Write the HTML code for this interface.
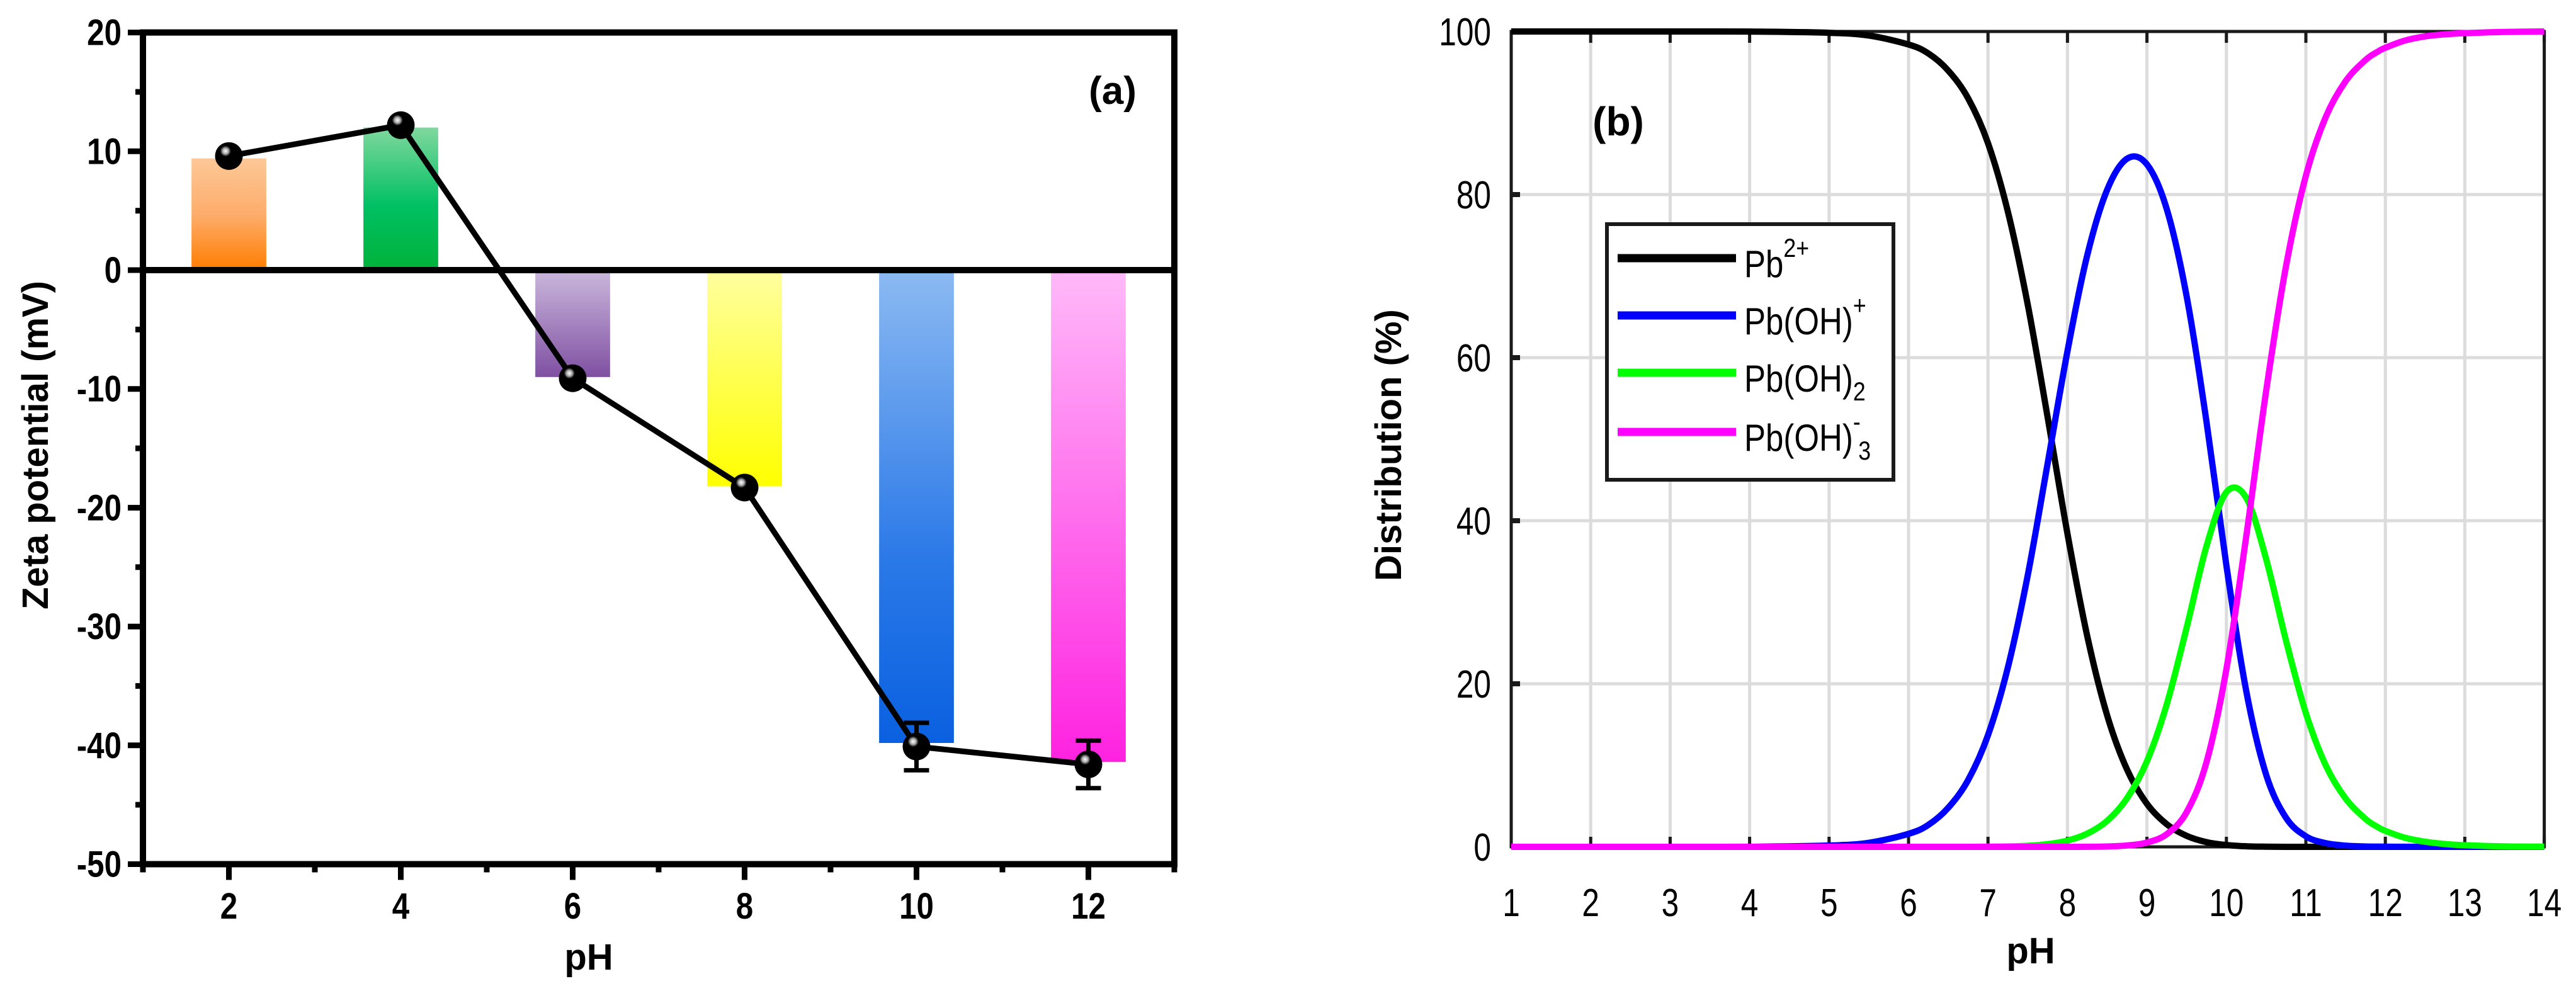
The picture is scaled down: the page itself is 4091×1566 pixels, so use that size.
<!DOCTYPE html>
<html><head><meta charset="utf-8"><style>
html,body{margin:0;padding:0;background:#fff;}
svg{display:block;font-family:"Liberation Sans",Arial,sans-serif;}
</style></head><body>
<svg id="fig" width="4091" height="1566" viewBox="0 0 4091 1566" xmlns="http://www.w3.org/2000/svg">
<defs>
<linearGradient id="gOrange" x1="0" y1="0" x2="0" y2="1"><stop offset="0" stop-color="#fdc897"/><stop offset="0.5" stop-color="#fdad6c"/><stop offset="1" stop-color="#ff7d00"/></linearGradient>
<linearGradient id="gGreen" x1="0" y1="0" x2="0" y2="1"><stop offset="0" stop-color="#80d89e"/><stop offset="0.55" stop-color="#00c063"/><stop offset="1" stop-color="#00b23a"/></linearGradient>
<linearGradient id="gPurple" x1="0" y1="0" x2="0" y2="1"><stop offset="0" stop-color="#cbb8dc"/><stop offset="1" stop-color="#7f50a2"/></linearGradient>
<linearGradient id="gYellow" x1="0" y1="0" x2="0" y2="1"><stop offset="0" stop-color="#ffffa0"/><stop offset="1" stop-color="#ffff00"/></linearGradient>
<linearGradient id="gBlue" x1="0" y1="0" x2="0" y2="1"><stop offset="0" stop-color="#8cbaf2"/><stop offset="0.6" stop-color="#2c7ae8"/><stop offset="1" stop-color="#0a60e0"/></linearGradient>
<linearGradient id="gPink" x1="0" y1="0" x2="0" y2="1"><stop offset="0" stop-color="#ffbaf9"/><stop offset="1" stop-color="#ff22e0"/></linearGradient>
<radialGradient id="gBall" cx="0.38" cy="0.32" r="0.7"><stop offset="0" stop-color="#fff"/><stop offset="0.15" stop-color="#aaa"/><stop offset="0.28" stop-color="#000"/><stop offset="1" stop-color="#000"/></radialGradient>
</defs>
<g id="panelA"></g>
<g id="panelB"></g>
</svg>
<script>
// ---------- Panel (a) data ----------
const zetaCategories = [2, 4, 6, 8, 10, 12];
const zetaBarValues = [9.4, 12.0, -9.0, -18.2, -39.8, -41.4];
const zetaPointValues = [9.6, 12.2, -9.1, -18.3, -40.1, -41.6];
const zetaErrors = [0, 0, 0, 0, 2.0, 2.0];
const zetaYTicks = [20, 10, 0, -10, -20, -30, -40, -50];
const zetaXTicks = [2, 4, 6, 8, 10, 12];

// ---------- Panel (b) data ----------
const phSamples = [1,2,3,4,5,5.5,6,6.25,6.5,6.75,7,7.25,7.5,7.75,8,8.25,8.5,8.75,9,9.25,9.5,9.75,10,10.25,10.5,10.75,11,11.25,11.5,11.75,11.9,12,12.25,12.5,12.75,13,13.5,14];
const pb2Values = [100,100,100,99.99,99.84,99.5,98.4,97.3,95.2,91.8,86.3,77.9,66.5,52.7,38.4,25.8,16.1,9.47,5.28,2.77,1.35,0.58,0.22,0.07,0.02,0,0,0,0,0,0,0,0,0,0,0,0,0];
const pbohValues = [0,0,0,0.01,0.16,0.5,1.6,2.7,4.8,8.2,13.7,22.0,33.3,47.0,60.8,72.6,80.6,84.4,83.7,78.2,67.5,52.1,34.5,19.1,8.85,3.57,1.30,0.45,0.15,0.05,0.03,0.02,0.01,0,0,0,0,0];
const pboh2Values = [0,0,0,0,0,0,0,0,0,0,0.02,0.05,0.13,0.33,0.77,1.63,3.2,5.97,10.5,17.5,26.9,36.9,43.5,42.8,35.3,25.3,16.4,10.0,5.93,3.43,2.45,1.96,1.11,0.63,0.35,0.2,0.06,0.02];
const pboh3Values = [0,0,0,0,0,0,0,0,0,0,0,0,0,0,0,0.01,0.05,0.17,0.53,1.56,4.26,10.4,21.8,38.1,55.9,71.2,82.3,89.5,93.9,96.5,97.5,98.0,98.9,99.4,99.65,99.8,99.94,100];
const distYTicks = [0, 20, 40, 60, 80, 100];
const distXTicks = [1,2,3,4,5,6,7,8,9,10,11,12,13,14];
const legendLabels = ["Pb", "Pb(OH)", "Pb(OH)", "Pb(OH)"];
const legendSups = ["2+", "+", "", "-"];
const legendSubs = ["", "", "2", "3"];

const NS = "http://www.w3.org/2000/svg";
function mk(parent, tag, attrs, text) {
  const e = document.createElementNS(NS, tag);
  for (const k in attrs) e.setAttribute(k, attrs[k]);
  if (text !== undefined) e.textContent = text;
  parent.appendChild(e);
  return e;
}

// ================= Panel A =================
(function () {
  const g = document.getElementById('panelA');
  const X0 = 227, XU = 136.5, Y0 = 429, YU = 18.87;
  const xA = v => X0 + (v - 1) * XU;
  const yA = v => Y0 - v * YU;
  const grads = ['gOrange', 'gGreen', 'gPurple', 'gYellow', 'gBlue', 'gPink'];
  const bw = 0.87 * XU;
  zetaCategories.forEach((c, i) => {
    const v = zetaBarValues[i];
    const r = mk(g, 'rect', { x: xA(c) - bw / 2, y: Math.min(yA(v), yA(0)), width: bw, height: Math.abs(yA(v) - yA(0)), fill: 'url(#' + grads[i] + ')' });
    
    
  });
  const fr = mk(g, 'rect', { x: xA(1), y: yA(20), width: xA(13) - xA(1), height: yA(-50) - yA(20), fill: 'none', stroke: '#000', 'stroke-width': 10 });
  
  
  const zl = mk(g, 'line', { x1: xA(1), x2: xA(13), y1: yA(0), y2: yA(0), stroke: '#000', 'stroke-width': 10 });
  
  
  for (let v = 20; v >= -50; v -= 5) {
    const major = v % 10 === 0;
    mk(g, 'line', { x1: xA(1) - (major ? 24 : 12), x2: xA(1), y1: yA(v), y2: yA(v), stroke: '#000', 'stroke-width': 9 });
  }
  zetaYTicks.forEach(v => {
    const t = mk(g, 'text', { transform: 'translate(' + (xA(1) - 34) + ',' + (yA(v) + 20) + ') scale(0.85,1)', 'text-anchor': 'end', 'font-size': 58, 'font-weight': 'bold' }, String(v));
    
    
  });
  for (let v = 1; v <= 13; v++) {
    const major = v % 2 === 0;
    mk(g, 'line', { x1: xA(v), x2: xA(v), y1: yA(-50), y2: yA(-50) + (major ? 25 : 13), stroke: '#000', 'stroke-width': 9 });
  }
  zetaXTicks.forEach(v => {
    const t = mk(g, 'text', { transform: 'translate(' + xA(v) + ',1459) scale(0.85,1)', 'text-anchor': 'middle', 'font-size': 58, 'font-weight': 'bold' }, String(v));
    
    
  });
  const pts = zetaCategories.map((c, i) => xA(c) + ',' + yA(zetaPointValues[i])).join(' ');
  const pl = mk(g, 'polyline', { points: pts, fill: 'none', stroke: '#000', 'stroke-width': 9 });
  
  
  zetaCategories.forEach((c, i) => {
    const e = zetaErrors[i];
    if (!e) return;
    const v = zetaPointValues[i];
    const eg = mk(g, 'g', { stroke: '#000', 'stroke-width': 7 });
    
    
    mk(eg, 'line', { x1: xA(c), x2: xA(c), y1: yA(v + e), y2: yA(v - e) });
    mk(eg, 'line', { x1: xA(c) - 20, x2: xA(c) + 20, y1: yA(v + e), y2: yA(v + e) });
    mk(eg, 'line', { x1: xA(c) - 20, x2: xA(c) + 20, y1: yA(v - e), y2: yA(v - e) });
  });
  zetaCategories.forEach((c, i) => {
    const m = mk(g, 'ellipse', { cx: xA(c), cy: yA(zetaPointValues[i]), rx: 22, ry: 22, fill: 'url(#gBall)' });
    
    
  });
  const yt = mk(g, 'text', { x: 0, y: 0, transform: 'translate(76,707) rotate(-90)', 'text-anchor': 'middle', 'font-size': 58, 'font-weight': 'bold' }, 'Zeta potential (mV)');
  
  
  const xt = mk(g, 'text', { x: 935, y: 1540, 'text-anchor': 'middle', 'font-size': 58, 'font-weight': 'bold' }, 'pH');
  
  
  const lab = mk(g, 'text', { x: 1767, y: 165, 'text-anchor': 'middle', 'font-size': 62, 'font-weight': 'bold' }, '(a)');
  
  
})();

// ================= Panel B =================
(function () {
  const g = document.getElementById('panelB');
  const X1 = 2400, XU = 126.2, Y0 = 1345, YU = 12.95;
  const xB = v => X1 + (v - 1) * XU;
  const yB = v => Y0 - v * YU;
  const grid = mk(g, 'g', { stroke: '#dcdcdc', 'stroke-width': 5 });
  
  
  distXTicks.slice(1, -1).forEach(v => mk(grid, 'line', { x1: xB(v), x2: xB(v), y1: yB(0), y2: yB(100) }));
  distYTicks.slice(1, -1).forEach(v => mk(grid, 'line', { x1: xB(1), x2: xB(14), y1: yB(v), y2: yB(v) }));
  const fr = mk(g, 'rect', { x: xB(1), y: yB(100), width: xB(14) - xB(1), height: yB(0) - yB(100), fill: 'none', stroke: '#1a1a1a', 'stroke-width': 5 });
  
  
  distXTicks.forEach(v => {
    mk(g, 'line', { x1: xB(v), x2: xB(v), y1: yB(100), y2: yB(100) + 18, stroke: '#1a1a1a', 'stroke-width': 5 });
    mk(g, 'line', { x1: xB(v), x2: xB(v), y1: yB(0), y2: yB(0) - 16, stroke: '#1a1a1a', 'stroke-width': 5 });
    const t = mk(g, 'text', { transform: 'translate(' + xB(v) + ',1455) scale(0.8,1)', 'text-anchor': 'middle', 'font-size': 62 }, String(v));
    
    
  });
  distYTicks.forEach(v => {
    mk(g, 'line', { x1: xB(1), x2: xB(1) + 14, y1: yB(v), y2: yB(v) }).setAttribute('stroke', '#1a1a1a');
    g.lastChild.setAttribute('stroke-width', 8);
    const t = mk(g, 'text', { transform: 'translate(2368,' + (yB(v) + 22) + ') scale(0.8,1)', 'text-anchor': 'end', 'font-size': 62 }, String(v));
    
    
  });
  const series = [[pb2Values, '#000000', 'curve-pb2'], [pbohValues, '#0000ff', 'curve-pboh'], [pboh2Values, '#00ff00', 'curve-pboh2'], [pboh3Values, '#ff00ff', 'curve-pboh3']];
  function smoothPath(xs, ys) {
    const P = xs.map((x, i) => [xB(x), yB(ys[i])]);
    let d = 'M' + P[0][0] + ',' + P[0][1];
    for (let i = 0; i < P.length - 1; i++) {
      const p0 = P[Math.max(i - 1, 0)], p1 = P[i], p2 = P[i + 1], p3 = P[Math.min(i + 2, P.length - 1)];
      const c1x = p1[0] + (p2[0] - p0[0]) / 6, c1y = p1[1] + (p2[1] - p0[1]) / 6;
      const c2x = p2[0] - (p3[0] - p1[0]) / 6, c2y = p2[1] - (p3[1] - p1[1]) / 6;
      d += ' C' + c1x + ',' + c1y + ' ' + c2x + ',' + c2y + ' ' + p2[0] + ',' + p2[1];
    }
    return d;
  }
  series.forEach(s => {
    const p = mk(g, 'path', { d: smoothPath(phSamples, s[0]), fill: 'none', stroke: s[1], 'stroke-width': 10, 'stroke-linejoin': 'round' });
    
    
  });
  const lg = mk(g, 'g', {});
  
  
  mk(lg, 'rect', { x: 2552, y: 356, width: 455, height: 406, fill: '#fff', stroke: '#1a1a1a', 'stroke-width': 6 });
  const ly = [410, 501, 592, 686];
  series.forEach((s, i) => {
    const e = mk(lg, 'g', {});
    
    
    mk(e, 'line', { x1: 2569, x2: 2757, y1: ly[i], y2: ly[i], stroke: s[1], 'stroke-width': 13 });
    const t = mk(e, 'text', { transform: 'translate(2770,' + (ly[i] + 30) + ') scale(0.85,1)', 'font-size': 60 });
    mk(t, 'tspan', {}, legendLabels[i]);
    if (legendSups[i]) mk(t, 'tspan', { dy: -32, 'font-size': 42 }, legendSups[i]);
    if (legendSubs[i]) mk(t, 'tspan', { dy: legendSups[i] ? 46 : 14, 'font-size': 42, dx: legendSups[i] ? -4 : 0 }, legendSubs[i]);
  });
  const yt = mk(g, 'text', { x: 0, y: 0, transform: 'translate(2225,707) rotate(-90)', 'text-anchor': 'middle', 'font-size': 58, 'font-weight': 'bold' }, 'Distribution (%)');
  
  
  const xt = mk(g, 'text', { x: 3225, y: 1530, 'text-anchor': 'middle', 'font-size': 58, 'font-weight': 'bold' }, 'pH');
  
  
  const lab = mk(g, 'text', { x: 2570, y: 215, 'text-anchor': 'middle', 'font-size': 64, 'font-weight': 'bold' }, '(b)');
  
  
})();
</script>
</body></html>
